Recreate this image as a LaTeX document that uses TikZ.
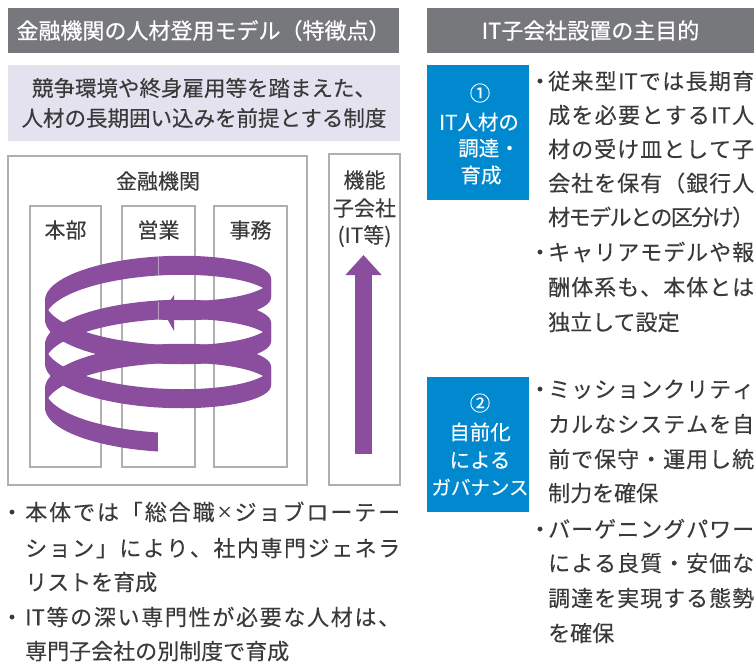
\documentclass[tikz,border=0pt]{standalone}
\usepackage{fontspec}
\setmainfont{Noto Sans CJK JP}[FakeBold=0.2]
\newfontfamily\headfont{Noto Sans CJK JP}[FakeBold=0.6]
\usetikzlibrary{arrows.meta}

\definecolor{barGray}{RGB}{119,120,123}
\definecolor{lavender}{RGB}{229,226,240}
\definecolor{itBlue}{RGB}{0,137,207}
\definecolor{helix}{RGB}{139,78,158}
\definecolor{ink}{RGB}{58,58,58}
\definecolor{frameGray}{RGB}{175,175,175}

% Spread the characters of a line evenly over a given width (justified Japanese line)
\makeatletter
\def\jsp@end{\jsp@stop}
\def\jspread#1{\jsp@a#1\jsp@stop}
\def\jsp@a#1{#1\jsp@b}
\def\jsp@b#1{\def\jsp@arg{#1}\ifx\jsp@arg\jsp@end\else\hskip0pt plus 1fil minus 1fil\relax#1\expandafter\jsp@b\fi}
\makeatother
\newcommand\fullline[2]{\makebox[#1][s]{\jspread{#2}}}
\newcommand\smalltimes{\raisebox{2.5pt}{\fontsize{16}{16}\selectfont ×}}

% One half turn of the helical ribbon between two angles (radians)
\newcommand\helixpiece[2]{%
  \fill[helix] plot[domain=#1:#2, samples=50, variable=\t]
      ({158-113*sin(\t r)},{289.5-33*cos(\t r)+7.003*\t})
    -- plot[domain=#2:#1, samples=50, variable=\t]
      ({158-113*sin(\t r)},{308.5-33*cos(\t r)+7.003*\t})
    -- cycle;}

\begin{document}
\begin{tikzpicture}[x=1pt,y=-1pt,
  bar/.style={fill=barGray, draw=none, text=white, inner sep=0,
    font=\headfont\fontsize{22}{22}\selectfont, text height=18.3pt, text depth=1.5pt},
  lavtext/.style={inner sep=0, text=ink, font=\fontsize{21.5}{21.5}\selectfont,
    text height=17.8pt, text depth=1.5pt},
  body/.style={inner sep=0, text=ink, font=\fontsize{22}{22}\selectfont,
    text height=18.3pt, text depth=1.5pt, anchor=west},
  dot/.style={inner sep=0, text=ink, font=\fontsize{22}{22}\selectfont,
    text height=18.3pt, text depth=1.5pt},
  label/.style={inner sep=0, text=ink, font=\fontsize{21}{21}\selectfont,
    text height=17.4pt, text depth=1.5pt},
  frame/.style={draw=frameGray, line width=1.4pt, fill=white, inner sep=0},
  bluebox/.style={fill=itBlue, draw=none, inner sep=0},
  bluetext/.style={inner sep=0, text=white, font=\fontsize{20.5}{20.5}\selectfont,
    text height=17pt, text depth=1.4pt},
]
\useasboundingbox (0,0) rectangle (754,662);

% ---------- left column ----------
\node[bar, minimum width=391pt, minimum height=45pt] (hdrL) at (203.5,30.5)
  {金融機関の人材登用モデル（特徴点）};

\node[fill=lavender, draw=none, minimum width=392pt, minimum height=76pt, inner sep=0]
  (premise) at (204,103) {};
\node[lavtext] (premise1) at (204,88) {競争環境や終身雇用等を踏まえた、};
\node[lavtext] (premise2) at (204,118) {人材の長期囲い込みを前提とする制度};

% financial institution and its divisions
\node[frame, minimum width=299pt, minimum height=329pt] (fin) at (157.5,320.5) {};
\node[label] (finlabel) at (158,181) {金融機関};
\node[frame, minimum width=71pt, minimum height=261pt] (honbu) at (65.5,336.5) {};
\node[frame, minimum width=73pt, minimum height=261pt] (eigyo) at (158.5,336.5) {};
\node[frame, minimum width=73pt, minimum height=261pt] (jimu) at (250.5,336.5) {};
\node[label] (honbulabel) at (65.5,230) {本部};
\node[label] (eigyolabel) at (158.5,230) {営業};
\node[label] (jimulabel) at (250.5,230) {事務};

% job rotation spiral across the divisions
\helixpiece{-3.14159}{-1.5708}
\helixpiece{-1.5708}{1.5708}
\helixpiece{1.5708}{4.7124}
\helixpiece{4.7124}{7.8540}
\helixpiece{7.8540}{10.9956}
\helixpiece{10.9956}{14.1372}
\helixpiece{14.1372}{15.7080}
\fill[helix] (163,311) -- (174,295) -- (174,331) -- cycle;
\draw[white, opacity=0.45, line width=0.5pt] (158,257) -- (158,275);
\draw[white, opacity=0.45, line width=0.5pt] (158,302) -- (158,321);

% functional subsidiary
\node[frame, minimum width=71pt, minimum height=331pt] (sub) at (364.5,319.5) {};
\node[label] (sub1) at (364.5,180) {機能};
\node[label] (sub2) at (364.5,208) {子会社};
\node[label] (sub3) at (364.5,235) {(IT等)};
\coordinate (itFoot) at (363.5,454);
\coordinate (itTip) at (363.5,255);
\draw[helix, line width=17pt, -{Triangle[width=35pt,length=20pt]}] (itFoot) -- (itTip);

% notes below
\node[dot] (ld1) at (12,512) {・};
\node[body] (l1) at (25,512) {\fullline{375pt}{本体では「総合職\smalltimes ジョブローテー}};
\node[body] (l2) at (25,548) {\fullline{375pt}{ション」により、社内専門ジェネラ}};
\node[body] (l3) at (25,582) {リストを育成};
\node[dot] (ld2) at (12,617) {・};
\node[body] (l4) at (25,617) {\fullline{375pt}{{IT}等の深い専門性が必要な人材は、}};
\node[body] (l5) at (25,651) {専門子会社の別制度で育成};

% ---------- right column ----------
\node[bar, minimum width=327pt, minimum height=45pt] (hdrR) at (590.5,30.5)
  {IT子会社設置の主目的};

% purpose 1
\node[bluebox, minimum width=102pt, minimum height=135pt] (p1) at (478,132.5) {};
\node[bluetext] (p1a) at (480,93) {①};
\node[bluetext] (p1b) at (479,122) {IT人材の};
\node[bluetext] (p1c) at (489,148) {調達・};
\node[bluetext] (p1d) at (481,175) {育成};

\node[dot] (rd1) at (540,81) {・};
\node[body] (r1) at (548,81) {\fullline{206pt}{従来型{IT}では長期育}};
\node[body] (r2) at (548,115) {\fullline{206pt}{成を必要とする{IT}人}};
\node[body] (r3) at (548,149) {\fullline{206pt}{材の受け皿として子}};
\node[body] (r4) at (548,183) {\fullline{206pt}{会社を保有（銀行人}};
\node[body] (r5) at (548,217) {\fullline{206pt}{材モデルとの区分け）}};
\node[dot] (rd2) at (540,252) {・};
\node[body] (r6) at (548,252) {\fullline{206pt}{キャリアモデルや報}};
\node[body] (r7) at (548,287) {\fullline{206pt}{酬体系も、本体とは}};
\node[body] (r8) at (548,322) {独立して設定};

% purpose 2
\node[bluebox, minimum width=102pt, minimum height=135pt] (p2) at (478,444.5) {};
\node[bluetext] (p2a) at (480,403) {②};
\node[bluetext] (p2b) at (480,432) {自前化};
\node[bluetext] (p2c) at (480,460) {による};
\node[bluetext, font=\fontsize{19.5}{19.5}\selectfont] (p2d) at (480,487) {ガバナンス};

\node[dot] (rd3) at (540,389) {・};
\node[body] (s1) at (548,389) {\fullline{206pt}{ミッションクリティ}};
\node[body] (s2) at (548,424) {\fullline{206pt}{カルなシステムを自}};
\node[body] (s3) at (548,459) {\fullline{206pt}{前で保守・運用し統}};
\node[body] (s4) at (548,493) {制力を確保};
\node[dot] (rd4) at (540,529) {・};
\node[body] (s5) at (548,529) {\fullline{206pt}{バーゲニングパワー}};
\node[body] (s6) at (548,563) {\fullline{206pt}{による良質・安価な}};
\node[body] (s7) at (548,598) {\fullline{206pt}{調達を実現する態勢}};
\node[body] (s8) at (548,633) {を確保};
\end{tikzpicture}
\end{document}
